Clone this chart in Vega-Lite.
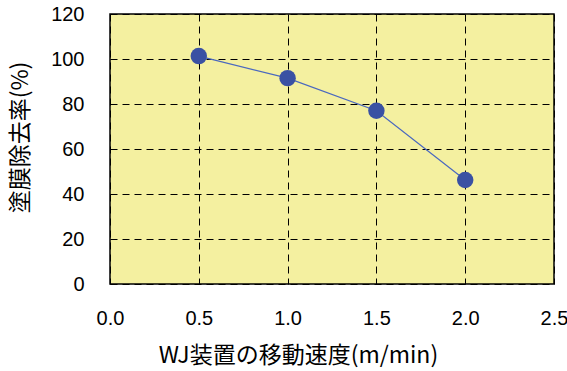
{
  "$schema": "https://vega.github.io/schema/vega-lite/v6.json",
  "autosize": "none",
  "width": 444,
  "height": 270,
  "padding": {"left": 110, "top": 14, "right": 13, "bottom": 87},
  "background": "white",
  "config": {
    "font": "Noto Sans CJK JP",
    "view": {"fill": "#f4f0a0", "stroke": "#000000", "strokeWidth": 1.5},
    "axis": {
      "labelFont": "Liberation Sans",
      "titleFont": "Noto Sans CJK JP",
      "labelColor": "#000000",
      "titleColor": "#000000",
      "labelFontSize": 20,
      "titleFontSize": 23,
      "titleFontWeight": "normal",
      "ticks": false,
      "domain": false,
      "gridColor": "#000000",
      "gridOpacity": 1,
      "gridWidth": 1,
      "gridDash": [7, 5]
    }
  },
  "data": {
    "values": [
      {"speed": 0.5, "rate": 101.3},
      {"speed": 1.0, "rate": 91.5},
      {"speed": 1.5, "rate": 77.0},
      {"speed": 2.0, "rate": 46.2}
    ]
  },
  "encoding": {
    "x": {
      "field": "speed",
      "type": "quantitative",
      "scale": {"domain": [0, 2.5], "nice": false, "zero": true},
      "axis": {
        "values": [0, 0.5, 1, 1.5, 2, 2.5],
        "format": ".1f",
        "labelPadding": 24,
        "labelDx": -3,
        "labelFlush": false,
        "title": "WJ装置の移動速度(m/min)",
        "titleX": 188,
        "titleY": 71,
        "titleAlign": "center",
        "titleBaseline": "middle"
      }
    },
    "y": {
      "field": "rate",
      "type": "quantitative",
      "scale": {"domain": [0, 120], "nice": false},
      "axis": {
        "values": [0, 20, 40, 60, 80, 100, 120],
        "labelPadding": 26,
        "labelFlush": false,
        "title": "塗膜除去率(%)",
        "titleAngle": -90,
        "titleX": -90,
        "titleY": 123,
        "titleAlign": "center",
        "titleBaseline": "middle"
      }
    }
  },
  "layer": [
    {"mark": {"type": "line", "color": "#4a68bf", "strokeWidth": 1.2}},
    {"mark": {"type": "point", "filled": true, "shape": "circle", "size": 270, "color": "#3a51a3", "opacity": 1}}
  ]
}
